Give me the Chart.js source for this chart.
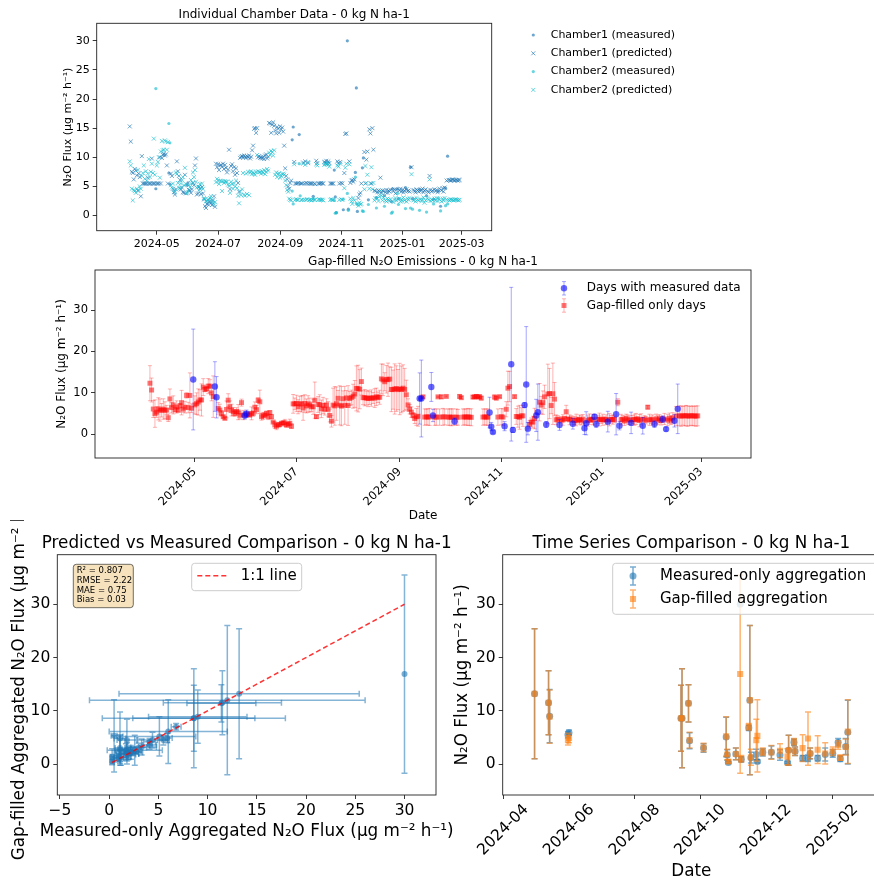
<!DOCTYPE html>
<html>
<head>
<meta charset="utf-8">
<title>N2O flux - 0 kg N ha-1</title>
<script src="https://cdn.jsdelivr.net/npm/chart.js@4.4.1/dist/chart.umd.min.js"></script>
<style>
  html, body { margin: 0; padding: 0; background: #fff; overflow: hidden; }
  body { width: 874px; height: 882px; position: relative; }
  canvas { position: absolute; }
</style>
</head>
<body>
<canvas id="chambers" width="874" height="256" style="left:0px;top:0px"></canvas>
<canvas id="gapfill" width="874" height="270" style="left:0px;top:254px"></canvas>
<canvas id="scatter" width="470" height="362" style="left:0px;top:520px"></canvas>
<canvas id="series" width="460" height="362" style="left:448px;top:520px"></canvas>
<script>
// daily flux per chamber (measured where available, model prediction otherwise), from 2024-04-04
const chamberStart = '2024-04-04'
const chamber1 = [
  15.3, 12.7, 7.5, 7.3, 6.2, 8.0, 7.7, 6.9, 4.3, 7.2,
  6.6, 3.3, 10.2, 5.5, 5.5, 5.5, 5.5, 5.5, 6.5, 5.5,
  5.5, 5.5, 9.8, 5.5, 5.5, 5.5, 4.6, 5.5, 5.5, 5.5,
  10.0, 5.5, 9.9, 10.4, 10.6, 10.3, 10.5, 8.6, 5.5, 7.3,
  5.4, 7.2, 6.8, 4.6, 4.0, 3.6, 4.5, 9.3, 7.6, 6.8,
  6.1, 4.5, 4.8, 4.0, 3.9, 7.0, 3.8, 5.2, 5.6, 4.4,
  4.3, 3.9, 4.5, 5.6, 5.2, 8.6, 9.8, 3.6, 3.8, 4.9,
  4.6, 3.7, 4.9, 3.8, 2.8, 1.6, 1.3, 2.0, 1.9, 2.4,
  2.4, 2.1, 1.8, 2.6, 3.3, 1.5, 8.9, 8.3, 8.8, 7.8,
  8.6, 8.7, 8.4, 8.9, 8.0, 8.7, 8.2, 7.4, 7.9, 11.3,
  4.5, 8.5, 8.8, 7.6, 8.3, 7.0, 8.1, 7.3, 5.6, 4.1,
  9.9, 10.1, 10.2, 10.0, 10.3, 10.1, 9.9, 10.2, 10.0, 10.3,
  9.8, 10.1, 11.2, 12.0, 14.9, 15.0, 14.2, 15.0, 10.0, 10.2,
  9.9, 10.0, 9.8, 10.1, 9.7, 10.3, 10.5, 9.8, 10.1, 15.9,
  15.8, 14.2, 15.6, 16.0, 15.4, 14.6, 14.1, 15.2, 14.9, 14.2,
  15.3, 14.8, 15.1, 14.4, 12.0, 8.1, 6.8, 6.2, 5.0, 4.6,
  5.6, 6.0, 13.0, 15.2, 9.2, 5.5, 5.5, 5.5, 5.6, 13.9,
  5.5, 5.5, 5.5, 9.1, 5.5, 9.3, 5.6, 5.5, 9.0, 5.5,
  5.5, 5.5, 5.5, 3.3, 5.5, 5.4, 9.4, 9.0, 5.5, 5.5,
  5.5, 5.6, 5.5, 5.5, 9.2, 9.1, 9.4, 8.9, 9.3, 9.0,
  5.5, 5.5, 5.5, 5.5, 7.8, 3.2, 0.5, 9.3, 9.0, 5.5,
  9.2, 5.6, 5.5, 1.0, 7.3, 14.0, 14.1, 30.0, 1.1, 9.3,
  5.6, 6.0, 6.1, 5.8, 6.2, 7.4, 21.9, 0.7, 3.0, 3.6,
  3.9, 5.5, 8.2, 9.9, 10.9, 5.5, 9.6, 11.0, 2.7, 14.8,
  14.1, 5.5, 15.0, 11.3, 4.3, 4.2, 3.1, 4.0, 4.3, 4.1,
  6.5, 3.9, 4.3, 4.2, 3.4, 4.0, 4.4, 3.9, 4.3, 4.1,
  4.4, 2.4, 4.6, 4.2, 4.5, 3.8, 4.4, 4.6, 2.9, 4.3,
  4.6, 4.1, 4.4, 4.0, 4.3, 4.8, 4.5, 4.2, 4.3, 4.1,
  8.3, 8.3, 2.9, 4.4, 4.2, 4.0, 4.5, 4.3, 4.1, 4.5,
  4.2, 4.4, 4.6, 4.0, 4.3, 4.5, 3.4, 4.2, 4.0, 6.8,
  4.4, 4.1, 4.3, 2.8, 4.5, 4.2, 4.4, 4.0, 4.2, 4.6,
  1.6, 4.3, 4.7, 4.1, 4.8, 4.7, 6.0, 10.2, 6.1, 6.1,
  6.0, 6.1, 6.2, 6.1, 6.0, 6.1, 6.1, 6.0, 6.1, 6.1
]
const chamber2 = [
  9.3, 8.6, 4.6, 2.6, 4.4, 4.2, 3.9, 4.6, 7.8, 4.3,
  5.0, 4.6, 6.8, 7.3, 8.6, 6.3, 7.6, 6.0, 7.2, 9.7,
  6.6, 7.5, 8.9, 7.3, 13.2, 7.0, 21.8, 8.6, 9.2, 10.0,
  6.5, 11.0, 12.8, 11.2, 11.3, 12.9, 12.7, 11.3, 12.6, 15.8,
  12.5, 5.2, 4.8, 5.5, 4.4, 4.0, 7.4, 7.1, 5.6, 4.8,
  4.7, 5.5, 6.1, 6.6, 5.2, 8.2, 5.4, 3.8, 4.2, 5.2,
  4.9, 6.1, 5.5, 7.4, 6.6, 7.8, 5.8, 4.8, 5.0, 4.3,
  5.4, 4.7, 5.5, 4.6, 3.0, 2.8, 2.5, 2.4, 2.7, 2.8,
  3.0, 3.3, 2.6, 2.2, 1.9, 2.3, 5.7, 6.3, 6.0, 5.4,
  6.0, 5.9, 4.2, 5.9, 5.6, 5.9, 5.8, 5.8, 5.3, 5.1,
  3.9, 5.8, 5.4, 4.6, 5.5, 5.0, 6.0, 4.7, 3.4, 2.1,
  4.1, 3.5, 4.5, 7.3, 3.6, 3.4, 7.2, 3.7, 7.5, 3.5,
  7.4, 7.6, 7.1, 7.4, 7.2, 7.0, 7.5, 10.4, 7.6, 7.4,
  7.5, 7.2, 7.6, 7.3, 7.8, 7.1, 7.5, 8.0, 7.7, 10.8,
  10.4, 11.1, 10.9, 10.3, 11.2, 7.0, 7.4, 6.6, 7.1, 7.3,
  6.5, 6.8, 7.1, 7.2, 7.0, 6.0, 5.2, 4.4, 4.1, 2.9,
  2.7, 2.6, 4.2, 2.0, 8.8, 2.7, 2.8, 2.7, 2.7, 8.9,
  3.4, 2.7, 2.7, 8.9, 2.7, 8.7, 2.7, 2.8, 9.2, 2.7,
  2.7, 2.6, 2.7, 2.9, 2.7, 2.7, 8.8, 8.6, 2.7, 2.8,
  2.7, 2.7, 2.7, 2.6, 8.7, 8.9, 8.8, 9.0, 8.8, 8.4,
  2.7, 2.8, 2.7, 2.7, 2.6, 0.4, 0.5, 8.6, 8.4, 2.7,
  8.9, 2.8, 2.7, 2.8, 4.7, 8.2, 8.9, 3.8, 0.9, 8.8,
  2.9, 2.4, 2.0, 3.0, 2.6, 6.6, 2.1, 1.9, 1.7, 2.2,
  1.9, 2.0, 0.8, 0.7, 4.5, 8.5, 5.6, 7.0, 1.9, 4.6,
  5.5, 8.3, 4.5, 5.6, 2.6, 3.0, 1.3, 2.9, 2.5, 3.3,
  4.3, 3.4, 2.6, 3.1, 1.6, 2.6, 2.4, 2.9, 2.7, 2.5,
  2.8, 0.4, 0.6, 2.3, 2.7, 3.0, 2.6, 3.8, 1.9, 2.9,
  2.4, 2.8, 2.5, 3.1, 2.6, 1.2, 2.4, 2.9, 2.7, 3.0,
  1.3, 7.1, 1.1, 2.6, 2.9, 2.4, 3.0, 2.7, 2.6, 0.9,
  2.8, 2.5, 2.7, 3.1, 2.2, 2.6, 0.6, 3.0, 2.7, 6.2,
  2.5, 2.8, 2.6, 2.0, 2.9, 2.6, 3.0, 2.5, 3.0, 2.7,
  0.8, 2.4, 2.9, 2.6, 3.0, 1.7, 2.7, 2.0, 2.7, 2.6,
  2.8, 2.7, 2.7, 2.6, 2.7, 2.8, 2.7, 2.7, 2.6, 2.7
]

// days with chamber measurements, aggregated
const measuredDates = [
  '2024-04-30', '2024-05-13', '2024-05-14', '2024-05-31', '2024-06-01',
  '2024-09-13', '2024-09-14', '2024-09-20', '2024-09-21', '2024-10-04',
  '2024-10-25', '2024-10-26', '2024-10-27', '2024-11-03', '2024-11-07',
  '2024-11-08', '2024-11-15', '2024-11-16', '2024-11-17', '2024-11-22',
  '2024-11-23', '2024-11-28', '2024-12-06', '2024-12-14', '2024-12-21',
  '2024-12-22', '2024-12-27', '2024-12-28', '2025-01-04', '2025-01-09',
  '2025-01-11', '2025-01-18', '2025-01-25', '2025-02-01', '2025-02-06',
  '2025-02-08', '2025-02-13', '2025-02-15'
]
const measuredMean = [
  13.2, 11.5, 9.0, 5.5, 5.9, 8.6, 8.6, 11.4, 4.4, 3.0,
  5.1, 1.7, 0.3, 1.9, 30.0, 0.9, 6.8, 12.0, 1.2, 1.8,
  0.5, 2.2, 2.2, 1.7, 0.3, 2.6, 4.1, 2.4, 1.1, 1.1,
  2.0, 1.1, 1.8, 2.0, 4.1, 1.0, 3.3, 6.0
]
const measuredSd = [
  12.2, 6.0, 5.0, 0.6, 0.5, 6.2, 9.3, 3.5, 1.5, 0.8,
  3.7, 1.0, 0.2, 1.1, 0, 0.5, 0.5, 14.0, 1.0, 1.0,
  0.3, 0.7, 1.2, 1.0, 0.2, 2.8, 0.6, 0.8, 0.5, 0.6,
  1.0, 0.5, 1.2, 0.7, 0.7, 0.5, 1.5, 6.0
]
const gapFilledMean = [
  13.2, 11.5, 8.9, 4.5, 4.9, 8.6, 8.6, 11.4, 4.5, 3.1,
  5.2, 1.8, 0.5, 1.9, 16.9, 1.0, 7.0, 12.0, 1.3, 4.5,
  5.3, 2.3, 2.2, 2.5, 1.4, 2.6, 4.2, 2.4, 3.0, 4.8,
  2.0, 2.7, 2.0, 2.4, 3.6, 1.2, 3.2, 6.1
]
const gapFilledSd = [
  12.2, 6.0, 5.0, 0.9, 0.9, 6.2, 9.3, 3.5, 1.5, 0.8,
  3.7, 1.0, 0.3, 1.1, 18.6, 0.6, 0.6, 14.0, 1.5, 3.9,
  6.8, 0.7, 1.3, 1.3, 1.5, 2.8, 0.6, 0.8, 2.5, 5.0,
  1.0, 2.6, 2.0, 0.8, 0.8, 0.5, 1.5, 6.0
]
const fitStats = ['R² = 0.807', 'RMSE = 2.22', 'MAE = 0.75', 'Bias = 0.03']

const topTicks = ['2024-05-01', '2024-07-01', '2024-09-01', '2024-11-01', '2025-01-01', '2025-03-01']
const seriesTicks = ['2024-04-01', '2024-06-01', '2024-08-01', '2024-10-01', '2024-12-01', '2025-02-01']
const chamberNames = ['Chamber1 (measured)', 'Chamber1 (predicted)', 'Chamber2 (measured)', 'Chamber2 (predicted)']
const gapNames = ['Days with measured data', 'Gap-filled only days']
const seriesNames = ['Measured-only aggregation', 'Gap-filled aggregation']

const FONT = '"DejaVu Sans", sans-serif'
const UNIT = 'N₂O Flux (µg m⁻² h⁻¹)'
const C1 = 'rgba(31,119,180,0.65)'
const C2 = 'rgba(23,190,207,0.65)'
const BLUE = 'rgba(31,119,180,0.6)'
const ORANGE = 'rgba(255,127,14,0.6)'
const RED = 'rgba(255,0,0,0.55)'

// dates -> day number in 2024 (2024-01-01 = 0)
const DAY0 = Date.UTC(2024, 0, 1)
const dayOf = s => (Date.parse(s) - DAY0) / 864e5
const measuredDays = measuredDates.map(dayOf)

// split chamber data into measured / predicted, and build the gap-filled daily mean +- sd
const ch1Meas = [], ch1Pred = [], ch2Meas = [], ch2Pred = [], gapOnly = [], gapOnlySd = []
const first = dayOf(chamberStart)
chamber1.forEach((a, i) => {
  const d = first + i
  const b = chamber2[i]
  if (measuredDays.includes(d)) {
    ch1Meas.push({x: d, y: a})
    ch2Meas.push({x: d, y: b})
  } else {
    ch1Pred.push({x: d, y: a})
    ch2Pred.push({x: d, y: b})
    gapOnly.push({x: d, y: (a + b) / 2})
    gapOnlySd.push(Math.abs(a - b) / Math.SQRT2)
  }
})
const gapMeasured = measuredDays.map((d, i) => ({x: d, y: gapFilledMean[i]}))
const measuredPts = measuredDays.map((d, i) => ({x: d, y: measuredMean[i]}))
const pairs = measuredMean.map((m, i) => ({x: m, y: gapFilledMean[i]}))
const lo = Math.min(...measuredMean), hi = Math.max(...measuredMean)

// ---------- drawing helpers ----------
function text(ctx, s, x, y, size, o = {}) {
  ctx.save()
  ctx.font = `${size}px ${FONT}`
  ctx.fillStyle = o.color || '#000'
  ctx.textAlign = o.align || 'center'
  ctx.textBaseline = 'middle'
  ctx.translate(x, y)
  if (o.rot) ctx.rotate(o.rot)
  ctx.fillText(s, 0, 0)
  ctx.restore()
}

function marker(ctx, kind, x, y, r, color) {
  ctx.save()
  ctx.fillStyle = color
  ctx.strokeStyle = color
  ctx.lineWidth = 1
  ctx.beginPath()
  if (kind === 'dot') {
    ctx.arc(x, y, r, 0, Math.PI * 2)
    ctx.fill()
  } else if (kind === 'x') {
    const d = r * Math.SQRT1_2
    ctx.moveTo(x - d, y - d); ctx.lineTo(x + d, y + d)
    ctx.moveTo(x - d, y + d); ctx.lineTo(x + d, y - d)
    ctx.stroke()
  } else {
    const s = r * Math.SQRT1_2
    ctx.fillRect(x - s, y - s, 2 * s, 2 * s)
  }
  ctx.restore()
}

function errIcon(ctx, x, y, half, cap, color, lw) {
  ctx.save()
  ctx.strokeStyle = color
  ctx.lineWidth = lw
  ctx.beginPath()
  ctx.moveTo(x, y - half); ctx.lineTo(x, y + half)
  ctx.moveTo(x - cap, y - half); ctx.lineTo(x + cap, y - half)
  ctx.moveTo(x - cap, y + half); ctx.lineTo(x + cap, y + half)
  ctx.stroke()
  ctx.restore()
}

function box(ctx, l, t, r, b, fill, stroke) {
  ctx.save()
  ctx.beginPath()
  ctx.roundRect(l, t, r - l, b - t, 3)
  ctx.fillStyle = fill
  ctx.fill()
  ctx.strokeStyle = stroke
  ctx.lineWidth = 1
  ctx.stroke()
  ctx.restore()
}

// error bars drawn under each dataset's markers
const errorBars = {
  id: 'errorBars',
  beforeDatasetDraw(chart, args) {
    const ds = chart.data.datasets[args.index]
    if (!ds.yErr && !ds.xErr) return
    const {ctx, chartArea: a} = chart
    const xs = chart.scales.x, ys = chart.scales.y
    const cap = ds.cap || 2
    ctx.save()
    ctx.beginPath()
    ctx.rect(a.left, a.top, a.right - a.left, a.bottom - a.top)
    ctx.clip()
    ctx.strokeStyle = ds.errColor
    ctx.lineWidth = ds.errWidth || 1
    ds.data.forEach((p, i) => {
      const px = xs.getPixelForValue(p.x), py = ys.getPixelForValue(p.y)
      ctx.beginPath()
      const ey = ds.yErr ? ds.yErr[i] : 0
      if (ey > 0) {
        const t = ys.getPixelForValue(p.y + ey), b = ys.getPixelForValue(p.y - ey)
        ctx.moveTo(px, t); ctx.lineTo(px, b)
        ctx.moveTo(px - cap, t); ctx.lineTo(px + cap, t)
        ctx.moveTo(px - cap, b); ctx.lineTo(px + cap, b)
      }
      const ex = ds.xErr ? ds.xErr[i] : 0
      if (ex > 0) {
        const l = xs.getPixelForValue(p.x - ex), r = xs.getPixelForValue(p.x + ex)
        ctx.moveTo(l, py); ctx.lineTo(r, py)
        ctx.moveTo(l, py - cap); ctx.lineTo(l, py + cap)
        ctx.moveTo(r, py - cap); ctx.lineTo(r, py + cap)
      }
      ctx.stroke()
    })
    ctx.restore()
  }
}

// frame, titles, axis labels and hand drawn legends
function decor(spec) {
  return {
    id: 'decor',
    afterDatasetsDraw(chart) {
      const {ctx, chartArea: a} = chart
      ctx.save()
      ctx.strokeStyle = '#222'
      ctx.lineWidth = 0.9
      ctx.strokeRect(a.left, a.top, a.right - a.left, a.bottom - a.top)
      ctx.restore()
    },
    afterDraw(chart) {
      const {ctx, chartArea: a} = chart
      const cx = (a.left + a.right) / 2, cy = (a.top + a.bottom) / 2
      if (spec.title) text(ctx, spec.title[0], cx, a.top - spec.title[2], spec.title[1])
      if (spec.xTitle) text(ctx, spec.xTitle[0], cx, a.bottom + spec.xTitle[2], spec.xTitle[1])
      if (spec.yTitle) text(ctx, spec.yTitle[0], a.left - spec.yTitle[2], cy, spec.yTitle[1], {rot: -Math.PI / 2})
      if (spec.extra) spec.extra(ctx, chart)
    }
  }
}

function scale(o) {
  const s = {
    type: 'linear', min: o.min, max: o.max,
    border: {display: false},
    grid: {drawOnChartArea: false, drawTicks: true, tickLength: 4, tickWidth: 0.9, color: '#222'},
    ticks: {
      color: o.hideLabels ? 'rgba(0,0,0,0)' : '#000',
      font: {family: FONT, size: o.size},
      padding: 3, includeBounds: false, autoSkip: false,
      maxRotation: o.rot || 0, minRotation: o.rot || 0
    },
    afterFit(sc) {
      if (sc.isHorizontal()) { sc.height = o.fit; sc.paddingLeft = 0; sc.paddingRight = 0 }
      else { sc.width = o.fit; sc.paddingTop = 0; sc.paddingBottom = 0 }
    }
  }
  if (o.step) s.ticks.stepSize = o.step
  if (o.at) {
    s.afterBuildTicks = sc => { sc.ticks = o.at.map(v => ({value: v})) }
    s.ticks.callback = (v, i) => o.labels[i]
  }
  if (o.format) s.ticks.callback = o.format
  return s
}

// plot = [left, top, right, bottom] inside the canvas
function padding(id, plot, yW, xH) {
  const cv = document.getElementById(id)
  return {left: plot[0] - yW, top: plot[1], right: cv.width - plot[2], bottom: cv.height - plot[3] - xH}
}

function base(id, plot, yW, xH, scales) {
  return {
    responsive: false, animation: false, events: [],
    layout: {padding: padding(id, plot, yW, xH)},
    plugins: {legend: {display: false}, tooltip: {enabled: false}},
    scales
  }
}

const minus = v => (v < 0 ? '\u2212' + Math.abs(v) : String(v))

// ---------- 1: individual chambers ----------
new Chart(document.getElementById('chambers'), {
  type: 'scatter',
  data: {datasets: [
    {data: ch1Meas, pointStyle: 'circle', pointRadius: 1.6, pointBackgroundColor: C1, pointBorderWidth: 0, order: 4},
    {data: ch1Pred, pointStyle: 'crossRot', pointRadius: 2.8, pointBorderColor: C1, pointBorderWidth: 1, order: 3},
    {data: ch2Meas, pointStyle: 'circle', pointRadius: 1.6, pointBackgroundColor: C2, pointBorderWidth: 0, order: 2},
    {data: ch2Pred, pointStyle: 'crossRot', pointRadius: 2.8, pointBorderColor: C2, pointBorderWidth: 1, order: 1}
  ]},
  options: base('chambers', [96.7, 23.3, 491.7, 230.7], 40, 22, {
    x: scale({min: 61, max: 455, size: 11, fit: 22, at: topTicks.map(dayOf), labels: topTicks.map(s => s.slice(0, 7))}),
    y: scale({min: -2.6, max: 33, step: 5, size: 11, fit: 40})
  }),
  plugins: [errorBars, decor({
    title: ['Individual Chamber Data - 0 kg N ha-1', 12, 8.3],
    yTitle: [UNIT, 11, 28.7],
    extra(ctx) {
      const kinds = ['dot', 'x', 'dot', 'x'], cols = [C1, C1, C2, C2]
      chamberNames.forEach((name, i) => {
        const y = 35 + i * 18.3
        marker(ctx, kinds[i], 533.3, y, kinds[i] === 'dot' ? 1.6 : 2.8, cols[i])
        text(ctx, name, 550.7, y, 11, {align: 'left'})
      })
    }
  })]
})

// ---------- 2: gap-filled daily emissions ----------
new Chart(document.getElementById('gapfill'), {
  type: 'scatter',
  data: {datasets: [
    {data: gapOnly, yErr: gapOnlySd, errColor: 'rgba(255,0,0,0.3)', cap: 2,
     pointStyle: 'rect', pointRadius: 3.5, pointBackgroundColor: RED, pointBorderWidth: 0, order: 2},
    {data: gapMeasured, yErr: gapFilledSd, errColor: 'rgba(0,0,255,0.35)', cap: 2,
     pointStyle: 'circle', pointRadius: 3.2, pointBackgroundColor: 'rgba(0,0,255,0.6)', pointBorderWidth: 0, order: 1}
  ]},
  options: base('gapfill', [95, 16, 751, 204], 40, 60, {
    x: scale({min: 61, max: 455, size: 11.5, fit: 60, rot: 45, at: topTicks.map(dayOf), labels: topTicks.map(s => s.slice(0, 7))}),
    y: scale({min: -5.8, max: 39.7, step: 10, size: 11.5, fit: 40})
  }),
  plugins: [errorBars, decor({
    title: ['Gap-filled N₂O Emissions - 0 kg N ha-1', 12, 8],
    xTitle: ['Date', 12, 58],
    yTitle: [UNIT, 12, 33],
    extra(ctx) {
      errIcon(ctx, 564, 34.3, 6.7, 2, 'rgba(0,0,255,0.35)', 1)
      marker(ctx, 'dot', 564, 34.3, 3.2, 'rgba(0,0,255,0.6)')
      text(ctx, gapNames[0], 586.7, 34.3, 12, {align: 'left'})
      errIcon(ctx, 564, 51.5, 6.7, 2, 'rgba(255,0,0,0.3)', 1)
      marker(ctx, 'square', 564, 51.5, 3.5, RED)
      text(ctx, gapNames[1], 586.7, 51.5, 12, {align: 'left'})
    }
  })]
})

// ---------- 3: predicted vs measured ----------
new Chart(document.getElementById('scatter'), {
  type: 'scatter',
  data: {datasets: [
    {data: pairs, xErr: measuredSd, yErr: gapFilledSd, errColor: 'rgba(31,119,180,0.55)', errWidth: 1.5, cap: 3,
     pointStyle: 'circle', pointRadius: 3, pointBackgroundColor: BLUE, pointBorderWidth: 0, order: 2},
    {data: [{x: lo, y: lo}, {x: hi, y: hi}], showLine: true, borderColor: 'rgba(255,0,0,0.8)', borderWidth: 1.5,
     borderDash: [5, 3], pointRadius: 0, order: 1}
  ]},
  options: base('scatter', [57.3, 34.7, 436, 275], 44, 30, {
    x: scale({min: -5.27, max: 33.2, step: 5, size: 15.5, fit: 30, format: minus}),
    y: scale({min: -5.8, max: 39.3, step: 10, size: 15.5, fit: 44})
  }),
  plugins: [errorBars, decor({
    title: ['Predicted vs Measured Comparison - 0 kg N ha-1', 16.8, 10.7],
    xTitle: ['Measured-only Aggregated ' + UNIT, 16.8, 37],
    yTitle: ['Gap-filled Aggregated ' + UNIT, 16.8, 37.3],
    extra(ctx) {
      box(ctx, 73.3, 44.3, 133.3, 87.7, 'rgba(245,222,179,0.85)', 'rgba(0,0,0,0.55)')
      fitStats.forEach((s, i) => text(ctx, s, 76.7, 50.7 + i * 9.8, 8.5, {align: 'left'}))
      box(ctx, 191.7, 43.3, 301.7, 70.7, 'rgba(255,255,255,0.8)', '#cccccc')
      ctx.save()
      ctx.strokeStyle = 'rgba(255,0,0,0.8)'
      ctx.lineWidth = 1.5
      ctx.setLineDash([5, 3])
      ctx.beginPath()
      ctx.moveTo(197.3, 55.7); ctx.lineTo(228.3, 55.7)
      ctx.stroke()
      ctx.restore()
      text(ctx, '1:1 line', 240.7, 55.7, 15, {align: 'left'})
    }
  })]
})

// ---------- 4: time series comparison ----------
new Chart(document.getElementById('series'), {
  type: 'scatter',
  data: {datasets: [
    {data: measuredPts, yErr: measuredSd, errColor: BLUE, errWidth: 1.5, cap: 3,
     pointStyle: 'circle', pointRadius: 3.5, pointBackgroundColor: BLUE, pointBorderWidth: 0, order: 2},
    {data: gapMeasured, yErr: gapFilledSd, errColor: ORANGE, errWidth: 1.5, cap: 3,
     pointStyle: 'rect', pointRadius: 4.3, pointBackgroundColor: ORANGE, pointBorderWidth: 0, order: 1}
  ]},
  options: base('series', [54.7, 34.7, 432, 275], 44, 30, {
    x: scale({min: 90.4, max: 440.9, size: 15.5, fit: 30, hideLabels: true, at: seriesTicks.map(dayOf), labels: seriesTicks.map(s => s.slice(0, 7))}),
    y: scale({min: -5.8, max: 39.3, step: 10, size: 15.5, fit: 44})
  }),
  plugins: [errorBars, decor({
    title: ['Time Series Comparison - 0 kg N ha-1', 16.8, 10.7],
    xTitle: ['Date', 16.8, 76.7],
    yTitle: [UNIT, 16.8, 39.7],
    extra(ctx, chart) {
      const a = chart.chartArea
      seriesTicks.forEach(s => {
        const px = chart.scales.x.getPixelForValue(dayOf(s))
        text(ctx, s.slice(0, 7), px, a.bottom + 35, 15.5, {rot: -Math.PI / 4})
      })
      box(ctx, 164.7, 43.3, 430, 94.3, 'rgba(255,255,255,0.8)', '#cccccc')
      errIcon(ctx, 185, 56, 9, 3, BLUE, 1.5)
      marker(ctx, 'dot', 185, 56, 3.5, BLUE)
      text(ctx, seriesNames[0], 212, 56, 15, {align: 'left'})
      errIcon(ctx, 185, 79, 9, 3, ORANGE, 1.5)
      marker(ctx, 'square', 185, 79, 4.3, ORANGE)
      text(ctx, seriesNames[1], 212, 79, 15, {align: 'left'})
    }
  })]
})
</script>
</body>
</html>
